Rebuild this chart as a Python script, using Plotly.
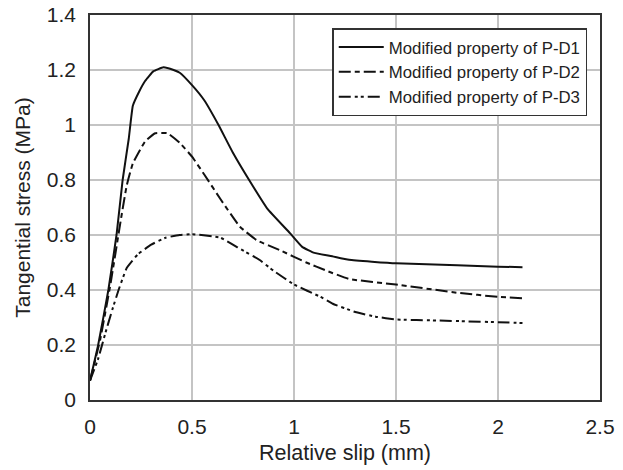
import plotly.graph_objects as go

# Data
pd1_x = [0, 0.04, 0.09, 0.13, 0.16, 0.19, 0.21, 0.24, 0.27, 0.31, 0.36, 0.41, 0.44, 0.5, 0.56,
         0.63, 0.70, 0.78, 0.87, 0.98, 1.04, 1.1, 1.18, 1.27, 1.5, 1.8, 2.0, 2.12]
pd1_y = [0.07, 0.2, 0.4, 0.6, 0.8, 0.95, 1.07, 1.12, 1.16, 1.195, 1.21, 1.2, 1.19, 1.145, 1.09,
         1.0, 0.9, 0.8, 0.695, 0.607, 0.557, 0.535, 0.524, 0.51, 0.497, 0.49, 0.485, 0.483]

pd2_x = [0, 0.05, 0.1, 0.15, 0.18, 0.21, 0.27, 0.32, 0.38, 0.44, 0.5, 0.56, 0.64, 0.735, 0.82,
         0.93, 1.06, 1.16, 1.27, 1.5, 1.8, 2.0, 2.12]
pd2_y = [0.07, 0.22, 0.42, 0.65, 0.78, 0.86, 0.94, 0.97, 0.97, 0.935, 0.885, 0.82, 0.73, 0.63, 0.58,
         0.545, 0.50, 0.47, 0.44, 0.42, 0.39, 0.375, 0.37]

pd3_x = [0, 0.04, 0.074, 0.11, 0.14, 0.18, 0.235, 0.3, 0.37, 0.44, 0.5, 0.64, 0.735, 0.83, 0.9,
         1.0, 1.13, 1.19, 1.3, 1.4, 1.5, 1.7, 1.85, 2.0, 2.12]
pd3_y = [0.07, 0.15, 0.24, 0.33, 0.40, 0.48, 0.53, 0.565, 0.59, 0.60, 0.603, 0.59, 0.55, 0.51, 0.47,
         0.42, 0.375, 0.35, 0.32, 0.303, 0.293, 0.289, 0.286, 0.283, 0.28]

names = ["Modified property of P-D1", "Modified property of P-D2", "Modified property of P-D3"]
dashes = ["solid", "12px,4px,5px,4px", "12px,4px,3px,3px,3px,4px"]

x_ticks = [0, 0.5, 1, 1.5, 2, 2.5]
x_ticktext = ["0", "0.5", "1", "1.5", "2", "2.5"]
y_ticks = [0, 0.2, 0.4, 0.6, 0.8, 1, 1.2, 1.4]
y_ticktext = ["0", "0.2", "0.4", "0.6", "0.8", "1", "1.2", "1.4"]

fig = go.Figure()
for xs, ys, nm, ds in zip([pd1_x, pd2_x, pd3_x], [pd1_y, pd2_y, pd3_y], names, dashes):
    fig.add_trace(go.Scatter(x=xs, y=ys, mode="lines", name=nm,
                             line=dict(color="#111111", width=2, dash=ds, shape="spline", smoothing=0.35)))

font_family = "Liberation Sans, Arial, sans-serif"
fig.update_layout(
    width=623, height=470,
    margin=dict(l=90, r=23, t=15, b=70, autoexpand=False),
    paper_bgcolor="white", plot_bgcolor="white",
    font=dict(family=font_family, color="#222222", size=21),
    showlegend=True,
    legend=dict(x=0.975, y=0.966, xanchor="right", yanchor="top",
                bgcolor="white", bordercolor="#333333", borderwidth=1.5,
                font=dict(size=16.8, family=font_family, color="#222222"),
                tracegroupgap=0, itemwidth=45),
)
fig.update_xaxes(range=[0, 2.5], tickvals=x_ticks, ticktext=x_ticktext,
                 showgrid=True, gridcolor="#c4c4c4", gridwidth=1.5,
                 showline=True, linecolor="#333333", linewidth=1.5, mirror=True,
                 ticks="", zeroline=False, ticklabelstandoff=7, automargin=False,
                 title=dict(text="Relative slip (mm)", font=dict(size=21.5), standoff=8))
fig.update_yaxes(range=[0, 1.4], tickvals=y_ticks, ticktext=y_ticktext,
                 showgrid=True, gridcolor="#c4c4c4", gridwidth=1.5,
                 showline=True, linecolor="#333333", linewidth=1.5, mirror=True,
                 ticks="", zeroline=False, ticklabelstandoff=8, automargin=False,
                 title=dict(text="Tangential stress (MPa)", font=dict(size=21), standoff=10))

fig.write_html("out.html")
